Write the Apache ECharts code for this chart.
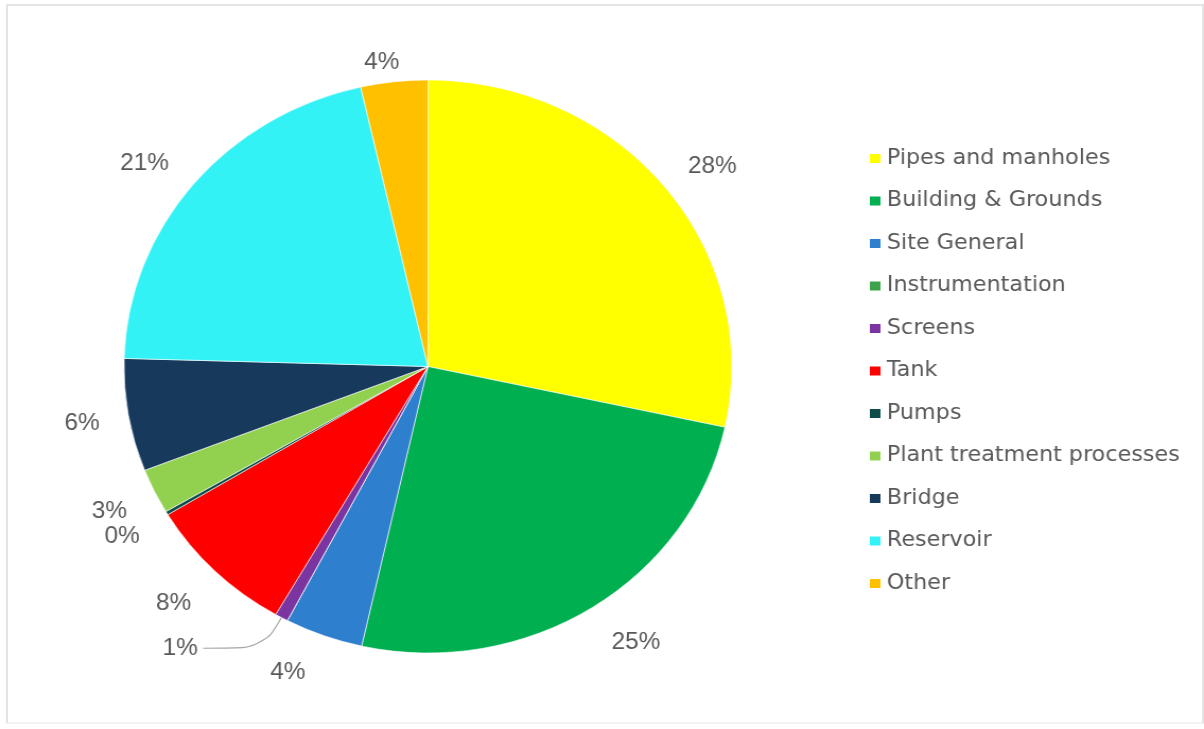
<!DOCTYPE html>
<html>
<head>
<meta charset="utf-8">
<script src="https://cdn.jsdelivr.net/npm/echarts@6/dist/echarts.min.js"></script>
<style>
  html, body { margin: 0; padding: 0; background: #ffffff; width: 1204px; height: 729px; overflow: hidden; }
  #frame { position: absolute; left: 6px; top: 4px; width: 1194px; height: 716px; border: 2px solid #e4e4e4; border-right-width: 3px; border-bottom-color: #f2f2f2; z-index: 5; pointer-events: none; }
  #chart { position: absolute; left: 0; top: 0; width: 1135px; height: 729px; transform: scaleX(1.0608); transform-origin: 0 0; z-index: 1; }
</style>
</head>
<body>
<div id="chart"></div>
<div id="frame"></div>
<script>
// ---- data (percent shares) ----
const categories = ['Pipes and manholes', 'Building & Grounds', 'Site General', 'Instrumentation', 'Screens', 'Tank', 'Pumps', 'Plant treatment processes', 'Bridge', 'Reservoir', 'Other'];
const values = [28.4, 25.1, 4.15, 0, 0.7, 8.0, 0.2, 2.55, 6.35, 21.0, 3.55];

// ---- styles ----
const colors = ['#FFFF00', '#00B050', '#2F7FCF', '#3BA34A', '#7A35A0', '#FF0000', '#0E4D4A', '#92D050', '#173A5C', '#33F2F6', '#FFC000'];
const labelOffsets = [[5, 12], [14, -9], [-16, -11], [0, 0], [0, 0], [-3, -4], [2, -3], [4, -2], [7, 0], [-6, 12], [-6, 32]];
const overlayHidden = ['Instrumentation', 'Screens'];
const calloutLabel = 'Screens';

const textColor = '#595959';
const labelFont = { color: textColor, fontFamily: 'Liberation Sans', fontSize: 23 };
const fmt = p => Math.round(p.value) + '%';

const chart = echarts.init(document.getElementById('chart'), null, { renderer: 'canvas' });

const mainData = categories.map((name, i) => {
  const item = { name: name, value: values[i], itemStyle: { color: colors[i] } };
  if (name === calloutLabel) {
    item.label = Object.assign({ show: true, position: 'outside', formatter: fmt, distanceToLabelLine: 5 }, labelFont);
    item.labelLine = { show: true, length: 35, length2: 57, smooth: 0.4, lineStyle: { color: '#A6A6A6', width: 1.2 } };
  }
  return item;
});

const overlayData = categories.map((name, i) => ({
  name: name,
  value: values[i],
  itemStyle: { color: 'rgba(0,0,0,0)', borderWidth: 0 },
  label: { show: overlayHidden.indexOf(name) < 0, offset: labelOffsets[i] }
}));

const option = {
  backgroundColor: '#ffffff',
  animation: false,
  legend: {
    orient: 'vertical',
    left: 813,
    top: 142.5,
    itemWidth: 12,
    itemHeight: 11,
    itemGap: 20.5,
    icon: 'rect',
    data: categories,
    selectedMode: false,
    textStyle: { color: textColor, fontFamily: 'DejaVu Sans', fontSize: 21, lineHeight: 22 }
  },
  series: [
    {
      type: 'pie',
      name: 'main',
      center: [403.4, 366.5],
      radius: [0, 286.5],
      startAngle: 90,
      clockwise: true,
      avoidLabelOverlap: false,
      silent: true,
      itemStyle: { borderColor: '#ffffff', borderWidth: 0.6 },
      label: { show: false },
      labelLine: { show: false },
      data: mainData
    },
    {
      type: 'pie',
      name: 'labels',
      center: [403.4, 366.5],
      radius: [0, 670],
      startAngle: 90,
      clockwise: true,
      avoidLabelOverlap: false,
      silent: true,
      z: 3,
      label: Object.assign({ position: 'inside', formatter: fmt }, labelFont),
      labelLine: { show: false },
      data: overlayData
    }
  ]
};
chart.setOption(option);
</script>
</body>
</html>
